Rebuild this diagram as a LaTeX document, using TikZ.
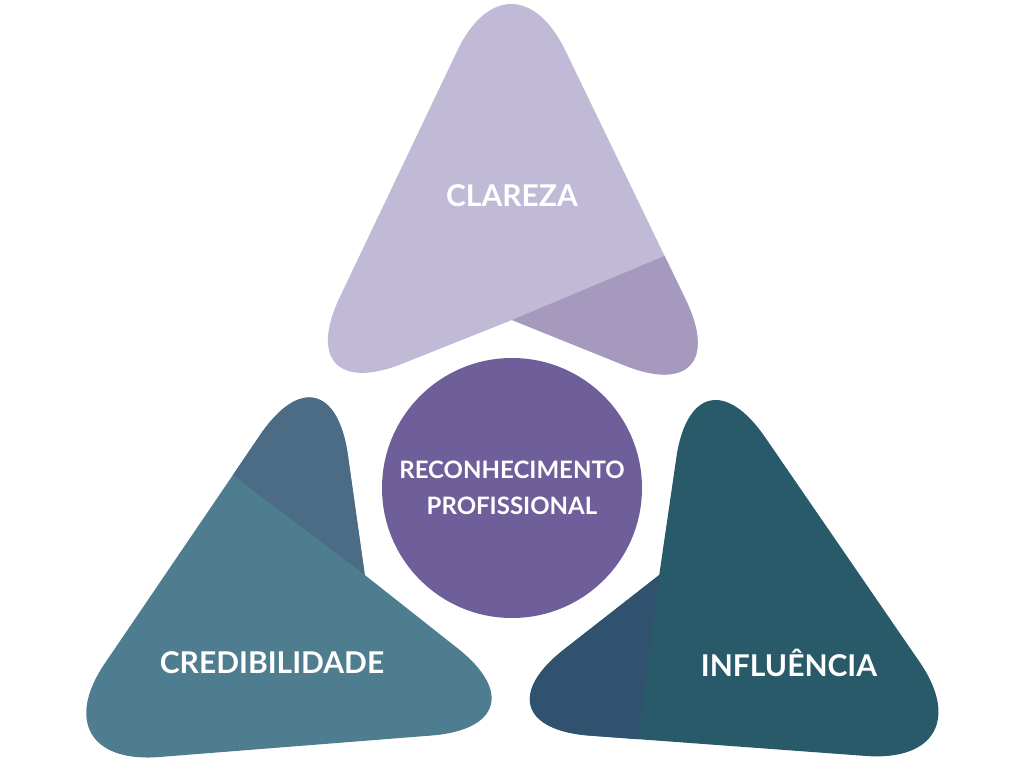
\documentclass[tikz,border=0pt]{standalone}
\usepackage{fontspec}
\setmainfont{Lato}
\usetikzlibrary{positioning}
\definecolor{lilac}{HTML}{C0BAD6}
\definecolor{lilacdark}{HTML}{A59ABD}
\definecolor{teal}{HTML}{4E7D8F}
\definecolor{tealdark}{HTML}{4C6C86}
\definecolor{petrol}{HTML}{285A6A}
\definecolor{petroldark}{HTML}{30526E}
\definecolor{core}{HTML}{6E5E99}
\newcommand{\leafpath}{(512,320) [rounded corners=125pt] -- (286,410) -- (511,-62) -- (740,412) [sharp corners] -- cycle}
\newcommand{\leafclip}{(512,320) -- (800,199) -- (800,460) -- (512,460) -- cycle}
\begin{document}
\begin{tikzpicture}[x=1pt, y=-1pt]

    % Define styles
    \tikzset{label/.style = {text = white, font = \bfseries\fontsize{30}{34}\selectfont}}
    \tikzset{corelabel/.style = {text = white, align = center,
        font = \bfseries\fontsize{24}{36}\selectfont}}

    \useasboundingbox (0,0) rectangle (1024,768);

    % Leaves
    \foreach \ang/\base/\shade in {0/lilac/lilacdark, 120/teal/tealdark, -120/petrol/petroldark} {
        \begin{scope}[rotate around = {\ang:(512,490)}]
            \fill [\base] \leafpath;
            \begin{scope}
                \clip \leafclip;
                \fill [\shade] \leafpath;
            \end{scope}
        \end{scope}
    }

    % Centre and labels
    \node [circle, fill = core, minimum size = 260pt, inner sep = 0pt, corelabel] (core) at (512,488)
        {RECONHECIMENTO\\PROFISSIONAL};
    \node [label] (clareza) at (512,196) {CLAREZA};
    \node [label] (cred) at (272,663) {CREDIBILIDADE};
    \node [label] (infl) at (789,663) {INFLUÊNCIA};

\end{tikzpicture}
\end{document}
